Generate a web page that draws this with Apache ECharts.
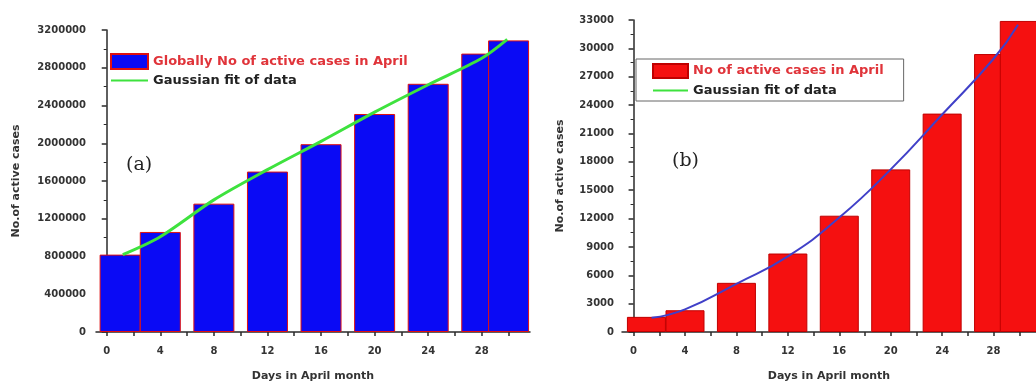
<!DOCTYPE html>
<html>
<head>
<meta charset="utf-8">
<script src="https://cdn.jsdelivr.net/npm/echarts@6/dist/echarts.min.js"></script>
<style>
html,body{margin:0;padding:0;background:#fff;}
#chart{width:1036px;height:387px;}
</style>
</head>
<body>
<div id="chart"></div>
<script>
// ---- data ----
const barDaysA = [1, 4, 8, 12, 16, 20, 24, 28, 30];
const casesA = [820000, 1060000, 1360000, 1700000, 1990000, 2310000, 2630000, 2950000, 3090000];
const fitDaysA = [1.2, 4, 8, 12, 16, 20, 24, 28, 29.9];
const fitA = [820000, 1010000, 1400000, 1720000, 2020000, 2330000, 2620000, 2900000, 3100000];

const barDaysB = [1, 4, 8, 12, 16, 20, 24, 28, 30];
const casesB = [1600, 2300, 5200, 8300, 12300, 17200, 23100, 29400, 32900];
const fitDaysB = [1.4, 4, 8, 12, 16, 20, 24, 28, 29.9];
const fitB = [1500, 2400, 5100, 8000, 12100, 17200, 23000, 28900, 32500];

const xLabelTicks = [0, 4, 8, 12, 16, 20, 24, 28];
const xAllTicks = [0, 2, 4, 6, 8, 10, 12, 14, 16, 18, 20, 22, 24, 26, 28, 30];

const legendBarA = 'Globally No of active cases in April';
const legendBarB = 'No of active cases in April';
const legendFit = 'Gaussian fit of data';
const xTitle = 'Days in April month';
const yTitle = 'No.of active cases';

const pair = (xs, ys) => xs.map((x, i) => [x, ys[i]]);

const axisColor = '#2a2a2a';
const labelFont = {fontFamily: 'DejaVu Sans', fontWeight: 'bold', fontSize: 10, color: '#333'};
const titleFont = {fontFamily: 'DejaVu Sans', fontWeight: 'bold', fontSize: 11, color: '#333'};

function xAxisCfg(gridIndex, min, max) {
  return {
    type: 'value', gridIndex, min, max,
    axisLine: {show: true, onZero: false, lineStyle: {color: axisColor, width: 1.5}},
    axisTick: {show: true, customValues: xAllTicks, length: 4, lineStyle: {color: axisColor, width: 1.5}},
    axisLabel: Object.assign({customValues: xLabelTicks, margin: 14}, labelFont),
    splitLine: {show: false},
    name: xTitle, nameLocation: 'middle', nameGap: 39,
    nameTextStyle: titleFont
  };
}
function yAxisCfg(gridIndex, max, interval, margin, nameGap) {
  return {
    type: 'value', gridIndex, min: 0, max, interval,
    axisLine: {show: true, lineStyle: {color: axisColor, width: 1.5}},
    axisTick: {show: true, length: 5, lineStyle: {color: axisColor, width: 1.5}},
    minorTick: {show: true, splitNumber: 2, length: 3, lineStyle: {color: axisColor, width: 1}},
    axisLabel: Object.assign({margin, formatter: v => String(v)}, labelFont),
    splitLine: {show: false},
    name: yTitle, nameLocation: 'middle', nameGap, nameRotate: 90,
    nameTextStyle: titleFont
  };
}

const legendText = {fontFamily: 'DejaVu Sans', fontWeight: 'bold', fontSize: 13};

const option = {
  animation: false,
  backgroundColor: '#fff',
  grid: [
    {left: 96, top: 30, width: 434, height: 307},
    {left: 622, top: 20, width: 414, height: 313}
  ],
  xAxis: [xAxisCfg(0, -0.8, 31.6), xAxisCfg(1, -0.9, 31.3)],
  yAxis: [yAxisCfg(0, 3200000, 400000, 10, 74), yAxisCfg(1, 33000, 3000, 8, 56)],
  legend: [
    {
      left: 105, top: 48, orient: 'vertical', itemWidth: 37, itemHeight: 15, itemGap: 4,
      textStyle: legendText,
      data: [
        {name: legendBarA, icon: 'rect', textStyle: {color: '#e0343a'}},
        {name: legendFit, itemStyle: {opacity: 0}, textStyle: {color: '#222'}}
      ]
    },
    {
      left: 636, top: 59, orient: 'vertical', itemWidth: 35, itemHeight: 14, itemGap: 5,
      borderColor: '#666', borderWidth: 1, borderRadius: 0, padding: [4, 20, 4, 16],
      textStyle: legendText,
      data: [
        {name: legendBarB, icon: 'rect', textStyle: {color: '#e0343a'}},
        {name: legendFit, itemStyle: {opacity: 0}, textStyle: {color: '#222'}}
      ]
    }
  ],
  graphic: [
    {type: 'text', left: 126, top: 156, style: {text: '(a)', font: '19px "DejaVu Serif"', fill: '#222'}},
    {type: 'text', left: 672, top: 152, style: {text: '(b)', font: '19px "DejaVu Serif"', fill: '#222'}}
  ],
  series: [
    {
      name: legendBarA, type: 'bar', xAxisIndex: 0, yAxisIndex: 0, barWidth: 41,
      itemStyle: {color: '#0a0af5', borderColor: '#e01010', borderWidth: 1},
      data: pair(barDaysA, casesA)
    },
    {
      name: legendFit, type: 'line', xAxisIndex: 0, yAxisIndex: 0, smooth: 0.3,
      symbol: 'none', lineStyle: {color: '#3ee23e', width: 3}, itemStyle: {color: '#3ee23e'},
      data: pair(fitDaysA, fitA), z: 5
    },
    {
      name: legendBarB, type: 'bar', xAxisIndex: 1, yAxisIndex: 1, barWidth: 39,
      itemStyle: {color: '#f51010', borderColor: '#c00000', borderWidth: 1},
      data: pair(barDaysB, casesB)
    },
    {
      name: legendFit, type: 'line', xAxisIndex: 1, yAxisIndex: 1, smooth: true,
      symbol: 'none', lineStyle: {color: '#4040c8', width: 2}, itemStyle: {color: '#4040c8'},
      data: pair(fitDaysB, fitB), z: 5
    }
  ]
};

const chart = echarts.init(document.getElementById('chart'), null, {renderer: 'canvas'});
chart.setOption(option);
</script>
</body>
</html>
